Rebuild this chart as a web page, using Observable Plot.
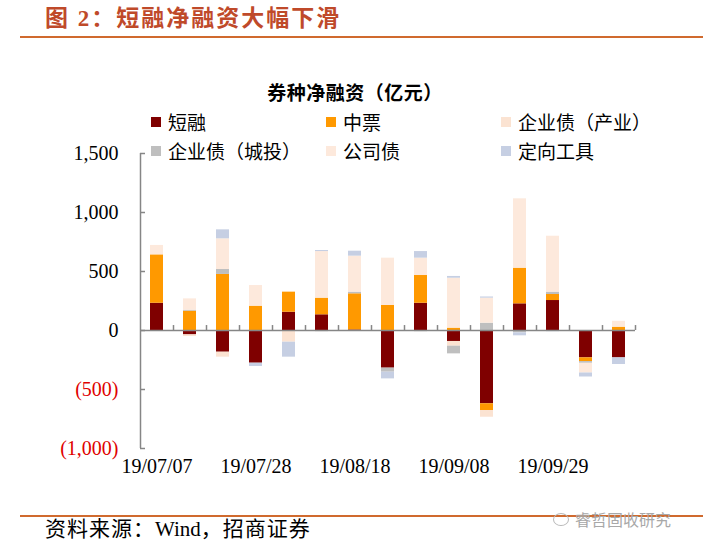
<!DOCTYPE html>
<html>
<head>
<meta charset="utf-8">
<script src="https://cdn.jsdelivr.net/npm/d3@7"></script>
<script src="https://cdn.jsdelivr.net/npm/@observablehq/plot@0.6"></script>
<style>
  body { margin: 0; background: #fff; }
  #wrap { position: relative; width: 726px; height: 542px; overflow: hidden; background: #fff;
          font-family: "Liberation Serif", "Noto Sans CJK SC", serif; color: #000; }
  .abs { position: absolute; white-space: nowrap; }
  #header { left: 45px; top: 4px; line-height: 30px; font-size: 23px; font-weight: bold; color: #BF4A2A; letter-spacing: 2px; }
  #hline { left: 20px; top: 36px; width: 683px; height: 2px; background: #D06A2E; }
  #ctitle { left: 205px; width: 300px; top: 83px; line-height: 22px; text-align: center; font-size: 19px; font-weight: bold; letter-spacing: 0.5px; }
  .leg { font-size: 19px; line-height: 24px; display: flex; align-items: center; }
  .sw { width: 10px; height: 10px; margin-right: 7px; }
  #chart { left: 0; top: 142px; }
  #fline { left: 20px; top: 515px; width: 683px; height: 1.5px; background: #D06A2E; }
  #source { left: 45px; top: 517px; line-height: 24px; font-size: 21px; letter-spacing: 1px; }
  #source .w { letter-spacing: 0; }
  #wm { left: 553px; top: 508px; line-height: 22px; font-size: 16px; color: #a8a8a8; display: flex; align-items: center; font-family: "Noto Sans CJK SC", sans-serif; }
  #wm .ic { width: 14px; height: 11px; border: 1.5px solid #b8b8b8; border-radius: 50%; margin-right: 6px; }
</style>
</head>
<body>
<div id="wrap">
  <div id="header" class="abs">图 2：短融净融资大幅下滑</div>
  <div id="hline" class="abs"></div>
  <div id="ctitle" class="abs">券种净融资（亿元）</div>
  <div id="legend"></div>
  <div id="chart" class="abs"></div>
  <div id="fline" class="abs"></div>
  <div id="source" class="abs">资料来源：<span class="w">Wind</span>，招商证券</div>
  <div id="wm" class="abs"><span class="ic"></span>睿哲固收研究</div>
</div>
<script>
// ---- data (亿元), weekly ----
const dates = ["19/07/07","19/07/14","19/07/21","19/07/28","19/08/04","19/08/11","19/08/18",
               "19/08/25","19/09/01","19/09/08","19/09/15","19/09/22","19/09/29","19/10/06","19/10/13"];
const xLabels = ["19/07/07","19/07/28","19/08/18","19/09/08","19/09/29"];
const seriesNames = ["短融","中票","企业债（产业）","企业债（城投）","公司债","定向工具"];
const shortTerm   = [231, -37, -184, -277, 155, 133,   5, -319, 231, -93, -621, 226, 254, -232, -232];
const mtn         = [410, 164,  475,  206, 170, 141, 306,  212, 235,  20,  -57, 302,  51,  -31,   28];
const entIndustry = [  0, -14,  -42,    0, -99,   0,   0,    0,   0, -40,  -57,   0,   0,    0,    0];
const entLGFV     = [  0,   8,   42,    0,   0, -10,  14,  -34, -10, -65,   62, -20,  20,  -15,    0];
const corpBond    = [ 80,  96,  260,  175,   0, 395, 305,  401, 147, 423,  212, 588, 474,  -82,   50];
const ppn         = [  0,   0,   76,  -28,-127,   9,  42,  -57,  56,  15,   10, -25, -10,  -34,  -56];
const seriesValues = [shortTerm, mtn, entIndustry, entLGFV, corpBond, ppn];
const colors = ["#7F0000", "#FF9900", "#FBE3D2", "#BFBFBF", "#FDE9DC", "#C6CFE3"];
const yTicks = [-1000, -500, 0, 500, 1000, 1500];

// ---- legend (HTML) ----
const legendPos = [[151,110],[326,110],[501,110],[151,139],[326,139],[501,139]];
const legend = d3.select("#legend");
seriesNames.forEach((s, k) => {
  const item = legend.append("div").attr("class", "abs leg")
    .style("left", legendPos[k][0] + "px").style("top", legendPos[k][1] + "px");
  item.append("div").attr("class", "sw").style("background", colors[k]);
  item.append("span").style("font-family", "'Noto Sans CJK SC', sans-serif").text(s);
});

// ---- chart ----
const rows = [];
seriesNames.forEach((s, k) => dates.forEach((d, i) => rows.push({date: d, series: s, value: seriesValues[k][i]})));

const fmt = d => d < 0 ? `(${d3.format(",")(-d)})` : d3.format(",")(d);
const axisColor = "#868686";

const chart = Plot.plot({
  width: 726,
  height: 348,
  marginLeft: 140,
  marginRight: 91,
  marginTop: 11,
  marginBottom: 42,
  x: {domain: dates, paddingInner: 0.6, paddingOuter: 0.3, axis: null},
  y: {domain: [-1000, 1500]},
  color: {domain: seriesNames, range: colors},
  style: {background: "transparent", fontFamily: "Liberation Serif, serif", overflow: "visible"},
  marks: [
    Plot.barY(rows, {x: "date", y: "value", fill: "series"}),
    Plot.ruleY([0], {stroke: axisColor, strokeWidth: 1.5}),
    Plot.ruleX(dates, {x: d => d, y1: 0, y2: 42, dx: 16.5, stroke: axisColor, strokeWidth: 1.5}),
    Plot.ruleX([dates[0]], {x: d => d, dx: -16.5, stroke: axisColor, strokeWidth: 1.5}),
    Plot.axisY({ticks: yTicks, tickSize: -5, tickFormat: () => "", label: null, stroke: axisColor, strokeWidth: 1.5}),
    Plot.text(yTicks, {y: d => d, text: fmt, frameAnchor: "left", dx: -22, textAnchor: "end",
      fill: d => d < 0 ? "#E00000" : "#000", fontSize: 20, fontFamily: "Liberation Serif"}),
    Plot.text(xLabels, {x: d => d, text: d => d, frameAnchor: "bottom", dy: 24,
      fill: "#000", fontSize: 20, fontFamily: "Liberation Serif"})
  ]
});
document.getElementById("chart").appendChild(chart);
</script>
</body>
</html>
